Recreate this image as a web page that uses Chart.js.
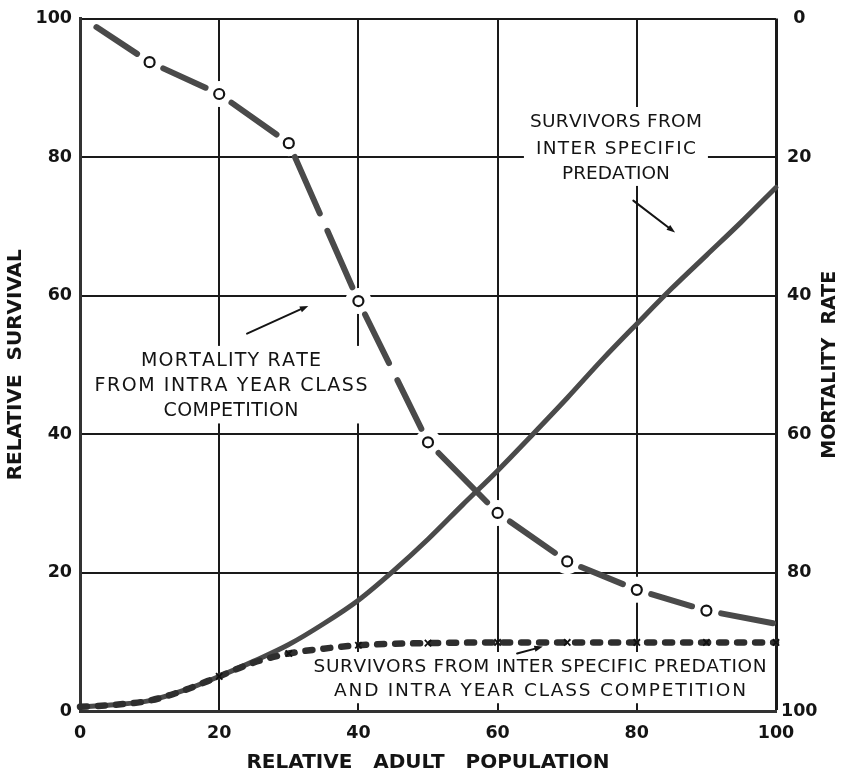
<!DOCTYPE html>
<html>
<head>
<meta charset="utf-8">
<script src="https://cdn.jsdelivr.net/npm/chart.js@4.4.1/dist/chart.umd.min.js"></script>
<style>
  html, body { margin: 0; padding: 0; background: #fff; }
  #wrap { width: 842px; height: 776px; }
</style>
</head>
<body>
<div id="wrap"><canvas id="chart" width="842" height="776"></canvas></div>
<script>
// Mortality rate from intra year class competition (right axis, reversed)
const mortalityX    = [2, 10, 20, 30, 40, 50, 60, 70, 80, 90, 100];
const mortalityRate = [1.0, 6.3, 10.9, 18.0, 40.8, 61.2, 71.4, 78.4, 82.5, 85.5, 87.4];

// Survivors from inter specific predation (left axis)
const predationX        = [0, 5, 10, 15, 20, 25, 30, 35, 40, 45, 50, 55, 60, 65, 70, 75, 80, 85, 90, 95, 100];
const predationSurvival = [0.6, 0.9, 1.5, 3.0, 5.0, 7.2, 9.6, 12.6, 16.0, 20.2, 24.8, 29.8, 34.7, 39.9, 45.2, 50.7, 55.9, 61.0, 65.8, 70.6, 75.6];

// Survivors from inter specific predation and intra year class competition (left axis)
const combinedX        = [0, 5, 10, 15, 20, 25, 30, 35, 40, 45, 50, 60, 70, 80, 90, 100];
const combinedSurvival = [0.6, 0.9, 1.5, 3.0, 5.0, 7.0, 8.3, 9.0, 9.5, 9.7, 9.8, 9.9, 9.9, 9.9, 9.9, 9.9];

// Axis tick labels
const populationTicks = [0, 20, 40, 60, 80, 100];
const survivalTicks   = [0, 20, 40, 60, 80, 100];
const mortalityTicks  = [0, 20, 40, 60, 80, 100];

const INK = '#141414';
const CURVE = '#4a4a4a';
const FONT = "'DejaVu Sans', sans-serif";

// Curve labels (centre x and line y in data units, each line spread to a set width in px)
const curveLabels = [
  { x: 77.0, size: 18.5, lines: [[85.2, 'SURVIVORS FROM', 172], [81.3, 'INTER SPECIFIC', 160], [77.7, 'PREDATION', 105]] },
  { x: 21.7, size: 19, lines: [[50.7, 'MORTALITY RATE', 180], [47.0, 'FROM INTRA YEAR CLASS', 273], [43.4, 'COMPETITION', 135]] },
  { x: 66.1, size: 18.5, lines: [[6.5, 'SURVIVORS FROM INTER SPECIFIC PREDATION', 453], [3.0, 'AND INTRA YEAR CLASS COMPETITION', 412]] }
];
const arrows = [
  { from: [79.5, 73.7], to: [85.5, 69.1] },
  { from: [24.0, 54.5], to: [32.8, 58.5] },
  { from: [62.8, 8.3],  to: [66.5, 9.3] }
];

const toPoints = (xs, ys) => xs.map((x, i) => ({ x, y: ys[i] }));

// Draw a line of text centred on cx, spreading letters to fill the given width
function spreadText(ctx, text, cx, cy, width) {
  const chars = [...text];
  const widths = chars.map(ch => ctx.measureText(ch).width);
  const natural = widths.reduce((a, b) => a + b, 0);
  const extra = chars.length > 1 ? Math.max(0, (width - natural) / (chars.length - 1)) : 0;
  let x = cx - (natural + extra * (chars.length - 1)) / 2;
  ctx.textAlign = 'left';
  chars.forEach((ch, i) => {
    ctx.fillText(ch, x, cy);
    x += widths[i] + extra;
  });
}

// Mortality curve: each stretch between circles is broken into one or two strokes
const LINE_W = 6;
const CIRCLE_GAP = 12;
const INNER_GAP = 13;
function mortalityDash(ctx) {
  const p0 = ctx.p0, p1 = ctx.p1;
  const len = Math.hypot(p1.x - p0.x, p1.y - p0.y);
  const last = mortalityX.length - 1;
  const cap = LINE_W / 2;
  const s = (ctx.p0DataIndex === 0 ? 0 : CIRCLE_GAP) + cap;
  const e = (ctx.p1DataIndex === last ? 0 : CIRCLE_GAP) + cap;
  const n = len > 120 ? 2 : 1;
  const g = INNER_GAP + LINE_W;
  const d = Math.max(1, (len - s - e - (n - 1) * g) / n);
  const pattern = [];
  for (let i = 0; i < n; i++) {
    pattern.push(d);
    pattern.push(i < n - 1 ? g : len + s + e + 60);
  }
  const total = pattern.reduce((a, b) => a + b, 0);
  return { pattern, offset: total - s };
}

// White knock-outs behind circles and labels so the grid breaks around them, then labels and arrows
const annotations = {
  id: 'annotations',
  beforeDatasetsDraw(chart) {
    const { ctx } = chart;
    const xs = chart.scales.x, ys = chart.scales.y, y2 = chart.scales.y2;
    ctx.save();
    ctx.fillStyle = '#fff';
    for (let i = 1; i < mortalityX.length - 1; i++) {
      ctx.beginPath();
      ctx.arc(xs.getPixelForValue(mortalityX[i]), y2.getPixelForValue(mortalityRate[i]), 13, 0, Math.PI * 2);
      ctx.fill();
    }
    for (const lab of curveLabels) {
      const cx = xs.getPixelForValue(lab.x);
      const maxW = Math.max(...lab.lines.map(l => l[2]));
      const top = ys.getPixelForValue(lab.lines[0][0]) - 14;
      const bottom = ys.getPixelForValue(lab.lines[lab.lines.length - 1][0]) + 13;
      ctx.fillStyle = '#fff';
      ctx.fillRect(cx - maxW / 2 - 6, top, maxW + 12, bottom - top);
    }
    ctx.fillStyle = INK;
    ctx.textBaseline = 'middle';
    for (const lab of curveLabels) {
      ctx.font = `${lab.size}px ${FONT}`;
      const cx = xs.getPixelForValue(lab.x);
      for (const [yv, text, w] of lab.lines) {
        spreadText(ctx, text, cx, ys.getPixelForValue(yv) + 1, w);
      }
    }
    ctx.strokeStyle = INK;
    ctx.fillStyle = INK;
    ctx.lineWidth = 2;
    ctx.lineCap = 'round';
    for (const a of arrows) {
      const x0 = xs.getPixelForValue(a.from[0]), y0 = ys.getPixelForValue(a.from[1]);
      const x1 = xs.getPixelForValue(a.to[0]),   y1 = ys.getPixelForValue(a.to[1]);
      const ang = Math.atan2(y1 - y0, x1 - x0);
      ctx.beginPath();
      ctx.moveTo(x0, y0);
      ctx.lineTo(x1 - 5 * Math.cos(ang), y1 - 5 * Math.sin(ang));
      ctx.stroke();
      ctx.beginPath();
      ctx.moveTo(x1, y1);
      ctx.lineTo(x1 - 9 * Math.cos(ang - 0.35), y1 - 9 * Math.sin(ang - 0.35));
      ctx.lineTo(x1 - 9 * Math.cos(ang + 0.35), y1 - 9 * Math.sin(ang + 0.35));
      ctx.closePath();
      ctx.fill();
    }
    ctx.restore();
  }
};

// Right-hand axis title, reading bottom to top
const rightTitle = {
  id: 'rightTitle',
  afterDraw(chart) {
    const { ctx, chartArea } = chart;
    ctx.save();
    ctx.translate(chartArea.right + 54, (chartArea.top + chartArea.bottom) / 2);
    ctx.rotate(-Math.PI / 2);
    ctx.font = `bold 19px ${FONT}`;
    ctx.fillStyle = INK;
    ctx.textAlign = 'center';
    ctx.textBaseline = 'middle';
    ctx.fillText('MORTALITY  RATE', 0, 0);
    ctx.restore();
  }
};

const tickFont = { family: FONT, size: 17.5, weight: 'bold' };
const titleFont = { family: FONT, size: 20, weight: 'bold' };

new Chart(document.getElementById('chart'), {
  type: 'line',
  data: {
    datasets: [
      {
        label: 'Mortality rate from intra year class competition',
        data: toPoints(mortalityX, mortalityRate),
        yAxisID: 'y2',
        borderColor: CURVE,
        borderWidth: LINE_W,
        borderCapStyle: 'round',
        tension: 0,
        pointRadius: mortalityX.map((_, i) => (i === 0 || i === mortalityX.length - 1) ? 0 : 5),
        pointBorderWidth: 2.2,
        pointBorderColor: INK,
        pointBackgroundColor: '#fff',
        segment: {
          borderDash: ctx => mortalityDash(ctx).pattern,
          borderDashOffset: ctx => mortalityDash(ctx).offset
        },
        clip: 8
      },
      {
        label: 'Survivors from inter specific predation and intra year class competition',
        data: toPoints(combinedX, combinedSurvival),
        yAxisID: 'y',
        borderColor: '#2e2e2e',
        borderWidth: 6.5,
        borderCapStyle: 'round',
        borderDash: [7, 11],
        cubicInterpolationMode: 'monotone',
        pointStyle: 'crossRot',
        pointRadius: combinedX.map(x => (x >= 20 && x % 10 === 0) ? 4.5 : 0),
        pointBorderWidth: 1.8,
        pointBorderColor: '#111',
        clip: 8
      },
      {
        label: 'Survivors from inter specific predation',
        data: toPoints(predationX, predationSurvival),
        yAxisID: 'y',
        borderColor: CURVE,
        borderWidth: 5,
        borderCapStyle: 'round',
        cubicInterpolationMode: 'monotone',
        pointRadius: 0,
        clip: 8
      }
    ]
  },
  options: {
    responsive: false,
    animation: false,
    devicePixelRatio: 1,
    layout: { padding: { top: 15, left: 0, right: 0, bottom: 0 } },
    plugins: { legend: { display: false }, tooltip: { enabled: false } },
    scales: {
      x: {
        type: 'linear',
        min: populationTicks[0],
        max: populationTicks[populationTicks.length - 1],
        afterFit: s => { s.height = 65; },
        afterBuildTicks: s => { s.ticks = populationTicks.map(v => ({ value: v })); },
        ticks: { font: tickFont, color: INK, padding: 12, maxRotation: 0 },
        grid: {
          color: '#1a1a1a',
          lineWidth: c => (c.tick && c.tick.value === 100) ? 3 : 2,
          drawTicks: false
        },
        border: { display: true, color: '#333', width: 3 },
        title: { display: true, text: 'RELATIVE   ADULT   POPULATION', font: titleFont, color: INK, padding: { top: 0, bottom: 1 } }
      },
      y: {
        type: 'linear',
        position: 'left',
        min: survivalTicks[0],
        max: survivalTicks[survivalTicks.length - 1],
        afterFit: s => { s.width = 80; },
        afterBuildTicks: s => { s.ticks = survivalTicks.map(v => ({ value: v })); },
        ticks: { font: tickFont, color: INK, padding: 8 },
        grid: {
          color: '#1a1a1a',
          lineWidth: c => (c.tick && c.tick.value === 0) ? 3 : 2,
          drawTicks: false
        },
        border: { display: true, color: '#333', width: 3 },
        title: { display: true, text: 'RELATIVE  SURVIVAL', font: titleFont, color: INK, padding: { top: 4, bottom: 0 } }
      },
      y2: {
        type: 'linear',
        position: 'right',
        reverse: true,
        min: mortalityTicks[0],
        max: mortalityTicks[mortalityTicks.length - 1],
        afterFit: s => { s.width = 66; },
        afterBuildTicks: s => { s.ticks = mortalityTicks.map(v => ({ value: v })); },
        ticks: { font: tickFont, color: INK, padding: 5, crossAlign: 'center' },
        grid: { display: false, drawTicks: false },
        border: { display: false }
      }
    }
  },
  plugins: [annotations, rightTitle]
});
</script>
</body>
</html>
